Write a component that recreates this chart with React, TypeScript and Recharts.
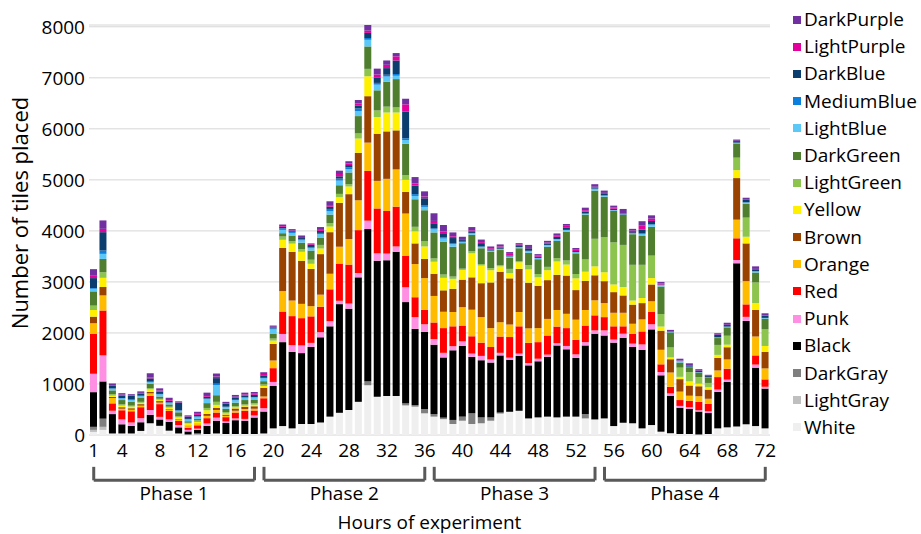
import React from "react";
import {
  BarChart,
  Bar,
  XAxis,
  YAxis,
  CartesianGrid,
  Legend,
  ReferenceLine,
} from "recharts";

// hours 1..72 of the experiment
const hours = Array.from({ length: 72 }, (_, i) => i + 1);
const tickHours = [1, 4, 8, 12, 16, 20, 24, 28, 32, 36, 40, 44, 48, 52, 56, 60, 64, 68, 72];
const yTicks = [0, 1000, 2000, 3000, 4000, 5000, 6000, 7000, 8000];

const phases = [
  { name: "Phase 1", from: 1, to: 18 },
  { name: "Phase 2", from: 19, to: 36 },
  { name: "Phase 3", from: 37, to: 54 },
  { name: "Phase 4", from: 55, to: 72 },
];

// tiles placed per hour, per colour (bottom of the stack first)
const white = [60, 100, 30, 30, 30, 80, 230, 180, 85, 30, 10, 10, 20, 30, 20, 20, 20, 20, 30, 130, 175, 130, 215, 215, 245, 360, 435, 490, 650, 975, 750, 765, 765, 580, 555, 425, 360, 310, 215, 280, 215, 230, 280, 420, 455, 475, 325, 345, 360, 345, 360, 360, 325, 305, 325, 175, 240, 230, 130, 195, 65, 35, 20, 20, 10, 20, 130, 150, 165, 210, 175, 130];
const lightGray = [40, 60, 0, 0, 0, 0, 0, 0, 0, 0, 0, 0, 0, 0, 0, 0, 0, 0, 0, 0, 0, 0, 0, 0, 0, 0, 0, 0, 0, 0, 0, 0, 0, 0, 0, 0, 0, 0, 0, 0, 0, 0, 0, 0, 0, 0, 0, 0, 0, 0, 0, 0, 0, 0, 0, 0, 0, 0, 0, 0, 0, 0, 0, 0, 0, 0, 0, 0, 0, 0, 0, 0];
const darkGray = [60, 160, 0, 0, 0, 0, 0, 0, 0, 0, 0, 20, 0, 0, 0, 0, 0, 0, 0, 0, 0, 0, 0, 0, 0, 0, 0, 0, 0, 80, 0, 0, 0, 40, 30, 85, 50, 30, 80, 80, 210, 115, 65, 20, 0, 0, 0, 0, 0, 0, 0, 0, 85, 0, 0, 0, 0, 0, 0, 0, 0, 0, 0, 0, 0, 0, 0, 0, 0, 0, 0, 0];
const black = [680, 730, 380, 180, 150, 170, 165, 125, 175, 120, 60, 70, 160, 250, 215, 270, 260, 325, 430, 830, 1645, 1500, 1390, 1510, 1670, 1770, 2130, 1985, 2440, 2980, 2665, 2660, 2825, 1985, 1495, 1510, 1360, 1180, 1365, 1385, 1105, 1120, 1075, 1120, 1020, 1075, 1040, 1100, 1170, 1410, 1320, 1150, 1345, 1680, 1625, 1635, 1665, 1495, 1540, 1875, 1105, 735, 515, 490, 450, 410, 715, 890, 3200, 2025, 1145, 780];
const punk = [360, 510, 65, 95, 65, 80, 95, 50, 45, 45, 30, 25, 45, 60, 30, 35, 35, 35, 65, 80, 160, 130, 150, 80, 100, 100, 65, 100, 85, 165, 145, 130, 105, 290, 230, 150, 110, 90, 80, 90, 65, 85, 60, 50, 40, 45, 45, 50, 45, 45, 65, 70, 65, 65, 100, 60, 80, 65, 105, 100, 65, 45, 35, 35, 25, 35, 45, 45, 65, 80, 60, 35];
const red = [780, 880, 145, 180, 220, 215, 280, 250, 165, 80, 45, 65, 105, 100, 85, 115, 160, 100, 195, 270, 440, 570, 535, 520, 500, 625, 730, 765, 840, 975, 880, 835, 780, 620, 390, 285, 325, 485, 390, 310, 340, 260, 245, 320, 405, 535, 395, 325, 375, 325, 350, 285, 325, 295, 260, 260, 145, 195, 255, 240, 150, 130, 115, 125, 165, 145, 245, 215, 425, 245, 180, 145];
const orange = [210, 295, 105, 30, 30, 30, 45, 30, 20, 30, 30, 25, 45, 50, 25, 35, 35, 35, 35, 150, 400, 305, 280, 200, 235, 305, 330, 500, 585, 555, 540, 630, 730, 825, 650, 620, 520, 320, 280, 360, 520, 500, 370, 280, 245, 280, 285, 275, 325, 325, 280, 395, 305, 295, 275, 265, 265, 195, 235, 210, 285, 280, 165, 100, 110, 100, 130, 180, 365, 455, 370, 215];
const brown = [130, 165, 20, 30, 30, 30, 30, 30, 15, 10, 10, 10, 40, 45, 25, 45, 45, 50, 170, 325, 845, 955, 845, 730, 795, 815, 860, 880, 930, 910, 925, 930, 765, 425, 405, 375, 435, 420, 455, 540, 635, 665, 895, 990, 905, 845, 895, 830, 760, 690, 750, 580, 570, 490, 430, 405, 340, 375, 320, 330, 375, 260, 245, 200, 195, 180, 245, 240, 815, 740, 520, 325];
const yellow = [130, 180, 25, 30, 30, 25, 50, 25, 30, 30, 40, 30, 70, 55, 20, 20, 20, 30, 35, 65, 160, 160, 175, 100, 110, 110, 110, 150, 280, 390, 325, 370, 350, 235, 235, 245, 235, 245, 195, 190, 470, 345, 240, 105, 100, 130, 260, 165, 195, 260, 215, 230, 180, 175, 175, 150, 165, 80, 100, 125, 80, 35, 45, 80, 50, 45, 60, 50, 155, 130, 135, 115];
const lightGreen = [85, 110, 30, 25, 20, 20, 25, 20, 20, 20, 15, 30, 45, 60, 30, 25, 25, 25, 30, 40, 65, 50, 50, 80, 70, 70, 65, 45, 100, 145, 130, 115, 100, 90, 90, 100, 65, 65, 45, 25, 40, 30, 40, 25, 85, 20, 85, 65, 65, 65, 80, 85, 240, 540, 685, 825, 825, 700, 650, 440, 245, 195, 180, 180, 130, 85, 195, 175, 245, 375, 405, 325];
const darkGreen = [280, 260, 75, 85, 80, 85, 85, 45, 45, 80, 30, 30, 95, 130, 65, 70, 85, 65, 65, 90, 65, 110, 130, 180, 145, 165, 170, 230, 340, 440, 395, 490, 555, 620, 540, 610, 510, 645, 585, 500, 325, 310, 325, 295, 215, 255, 240, 290, 395, 340, 565, 405, 880, 945, 795, 620, 590, 600, 565, 565, 540, 295, 100, 100, 90, 100, 135, 165, 280, 275, 195, 210];
const lightBlue = [50, 100, 30, 30, 30, 25, 30, 40, 30, 30, 35, 40, 80, 200, 30, 45, 45, 50, 55, 90, 65, 50, 45, 45, 65, 65, 90, 65, 100, 130, 110, 100, 65, 70, 65, 65, 60, 60, 50, 20, 25, 25, 15, 20, 25, 20, 30, 20, 30, 30, 30, 20, 15, 30, 20, 10, 5, 15, 40, 40, 25, 5, 30, 5, 5, 5, 10, 10, 10, 20, 20, 10];
const mediumBlue = [15, 65, 10, 10, 10, 10, 10, 10, 10, 10, 10, 10, 10, 25, 10, 10, 10, 10, 10, 20, 30, 20, 20, 20, 25, 45, 40, 35, 50, 35, 35, 35, 35, 35, 35, 35, 20, 20, 20, 10, 10, 10, 5, 5, 5, 5, 10, 5, 5, 5, 5, 5, 5, 10, 5, 5, 5, 5, 10, 10, 5, 5, 5, 5, 5, 5, 5, 5, 5, 5, 5, 5];
const darkBlue = [195, 360, 50, 50, 70, 40, 65, 45, 30, 150, 40, 30, 35, 110, 55, 40, 35, 45, 50, 20, 30, 15, 25, 45, 40, 45, 45, 45, 60, 100, 100, 130, 265, 520, 165, 135, 100, 85, 100, 30, 20, 65, 20, 20, 20, 20, 50, 25, 25, 45, 50, 20, 40, 20, 30, 25, 5, 20, 75, 65, 10, 10, 5, 25, 20, 25, 45, 30, 30, 45, 25, 45];
const lightPurple = [45, 65, 15, 15, 10, 15, 15, 20, 15, 5, 5, 20, 15, 30, 5, 20, 20, 20, 25, 10, 15, 10, 20, 15, 20, 30, 45, 30, 35, 45, 65, 65, 80, 145, 45, 35, 45, 35, 35, 20, 30, 20, 25, 25, 30, 30, 25, 20, 20, 20, 30, 25, 25, 15, 20, 20, 15, 30, 85, 45, 20, 5, 5, 5, 5, 5, 5, 5, 5, 5, 20, 5];
const darkPurple = [130, 165, 30, 30, 25, 30, 85, 45, 45, 20, 25, 40, 65, 60, 35, 35, 35, 35, 35, 25, 30, 30, 30, 15, 55, 75, 65, 45, 70, 110, 115, 85, 65, 110, 125, 100, 150, 125, 75, 45, 65, 50, 35, 40, 35, 25, 40, 30, 35, 45, 35, 35, 50, 50, 45, 40, 85, 35, 80, 65, 30, 25, 30, 35, 30, 20, 30, 40, 25, 40, 50, 40];

const series = [
  { key: "White", color: "#EFEFEF", values: white },
  { key: "LightGray", color: "#BFBFBF", values: lightGray },
  { key: "DarkGray", color: "#7F7F7F", values: darkGray },
  { key: "Black", color: "#000000", values: black },
  { key: "Punk", color: "#FF8FE2", values: punk },
  { key: "Red", color: "#FF0000", values: red },
  { key: "Orange", color: "#FFBB00", values: orange },
  { key: "Brown", color: "#9A4200", values: brown },
  { key: "Yellow", color: "#FFF000", values: yellow },
  { key: "LightGreen", color: "#8DC44E", values: lightGreen },
  { key: "DarkGreen", color: "#4F7F2E", values: darkGreen },
  { key: "LightBlue", color: "#5CC8F8", values: lightBlue },
  { key: "MediumBlue", color: "#0A7FDD", values: mediumBlue },
  { key: "DarkBlue", color: "#0B3D6E", values: darkBlue },
  { key: "LightPurple", color: "#E4009C", values: lightPurple },
  { key: "DarkPurple", color: "#7030A0", values: darkPurple },
];

const data = hours.map((hour, i) => {
  const row: Record<string, number> = { hour };
  series.forEach((s) => {
    row[s.key] = s.values[i];
  });
  return row;
});

const FONT = "'Open Sans', 'Noto Sans', sans-serif";
const BRACKET_Y = -888;
const BRACKET_TOP = -624;
const BRACKET_COLOR = "#595959";

const HourTick = (props: any) => {
  const { x, y, payload } = props;
  if (!tickHours.includes(payload.value)) return <g />;
  return (
    <text x={x} y={y + 14} textAnchor="middle" fontSize={19} fill="#000" fontFamily={FONT}>
      {payload.value}
    </text>
  );
};

const renderLegend = () => (
  <div style={{ fontFamily: FONT, fontSize: 19, color: "#000" }}>
    {[...series].reverse().map((s) => (
      <div key={s.key} style={{ height: 27.2, display: "flex", alignItems: "center" }}>
        <span
          style={{
            display: "inline-block",
            width: 8,
            height: 8,
            marginLeft: 5,
            marginRight: 3,
            background: s.color,
          }}
        />
        <span style={{ lineHeight: "27px" }}>{s.key}</span>
      </div>
    ))}
  </div>
);

const YTitle = () => (
  <text
    transform="translate(19,213) rotate(-90)"
    textAnchor="middle"
    dominantBaseline="central"
    fontSize={22}
    fill="#000"
    fontFamily={FONT}
  >
    Number of tiles placed
  </text>
);

const App = () => {
  return (
    <div style={{ position: "absolute", left: 0, top: 0, width: 921, height: 534, background: "#fff", fontFamily: FONT }}>
      <BarChart
        width={921}
        height={534}
        data={data}
        margin={{ top: 25, right: 18, bottom: 0, left: 0 }}
      >
        <CartesianGrid vertical={false} stroke="#D6D6D6" />
        <XAxis
          dataKey="hour"
          interval={0}
          tickLine={false}
          axisLine={false}
          height={99}
          tick={<HourTick />}
          label={{
            value: "Hours of experiment",
            position: "insideBottom",
            offset: 5,
            fontSize: 19,
            fill: "#000",
            fontFamily: FONT,
          }}
        />
        <YAxis
          domain={[0, 8000]}
          ticks={yTicks}
          width={89}
          tickLine={false}
          axisLine={false}
          tickSize={0}
          tickMargin={4}
          tick={{ fontSize: 19, fill: "#000", fontFamily: FONT }}
          label={{ content: () => <YTitle /> }}
        />
        <Legend
          layout="vertical"
          align="right"
          verticalAlign="top"
          wrapperStyle={{ left: 788, top: 6, width: 133 }}
          content={renderLegend}
        />
        {series.map((s) => (
          <Bar
            key={s.key}
            dataKey={s.key}
            stackId="tiles"
            fill={s.color}
            barSize={7}
            isAnimationActive={false}
          />
        ))}
        {phases.map((p) => (
          <ReferenceLine
            key={p.name + "-h"}
            segment={[
              { x: p.from, y: BRACKET_Y },
              { x: p.to, y: BRACKET_Y },
            ]}
            stroke={BRACKET_COLOR}
            strokeWidth={3}
            ifOverflow="visible"
            label={{
              value: p.name,
              position: "bottom",
              offset: 6,
              fontSize: 19,
              fill: "#000",
              fontFamily: FONT,
            }}
          />
        ))}
        {phases.map((p) => (
          <ReferenceLine
            key={p.name + "-l"}
            segment={[
              { x: p.from, y: BRACKET_Y },
              { x: p.from, y: BRACKET_TOP },
            ]}
            stroke={BRACKET_COLOR}
            strokeWidth={3}
            ifOverflow="visible"
          />
        ))}
        {phases.map((p) => (
          <ReferenceLine
            key={p.name + "-r"}
            segment={[
              { x: p.to, y: BRACKET_Y },
              { x: p.to, y: BRACKET_TOP },
            ]}
            stroke={BRACKET_COLOR}
            strokeWidth={3}
            ifOverflow="visible"
          />
        ))}
      </BarChart>
    </div>
  );
};

export default App;
